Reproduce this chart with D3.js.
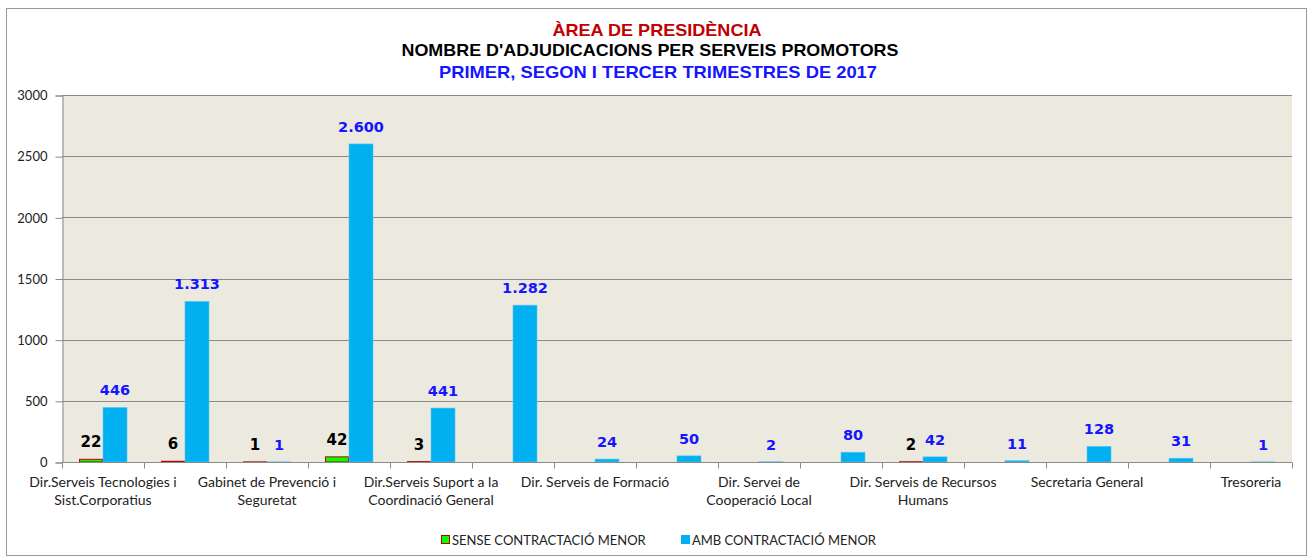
<!DOCTYPE html>
<html>
<head>
<meta charset="utf-8">
<script src="https://cdn.jsdelivr.net/npm/d3@7/dist/d3.min.js"></script>
<style>
  body { margin: 0; background: #fff; }
  svg { display: block; }
</style>
</head>
<body>
<script>
// chart data
var categories = [
  "Dir.Serveis Tecnologies i\nSist.Corporatius", "",
  "Gabinet de Prevenció i\nSeguretat", "",
  "Dir.Serveis Suport a la\nCoordinació General", "",
  "Dir. Serveis de Formació", "",
  "Dir. Servei de\nCooperació Local", "",
  "Dir. Serveis de Recursos\nHumans", "",
  "Secretaria General", "",
  "Tresoreria"
];
var senseValues = [22, 6, 1, 42, 3, null, null, null, null, null, 2, null, null, null, null];
var ambValues = [446, 1313, 1, 2600, 441, 1282, 24, 50, 2, 80, 42, 11, 128, 31, 1];
var seriesNames = ["SENSE CONTRACTACIÓ MENOR", "AMB CONTRACTACIÓ MENOR"];
var yTicks = [0, 500, 1000, 1500, 2000, 2500, 3000];
var titles = ["ÀREA DE PRESIDÈNCIA", "NOMBRE D'ADJUDICACIONS PER SERVEIS PROMOTORS", "PRIMER, SEGON I TERCER TRIMESTRES DE 2017"];

var W = 1312, H = 557;
var plot = {left: 62, right: 1292, top: 95, bottom: 462};

var svg = d3.select("body").append("svg")
    .attr("width", W)
    .attr("height", H);

// outer frame
svg.append("rect")
    .attr("x", 6.5).attr("y", 8.5)
    .attr("width", 1300).attr("height", 547)
    .attr("fill", "#fff")
    .attr("stroke", "#9a9a9a");

// titles
var titleColors = ["#c00000", "#000", "#1515ff"];
var titleY = [36, 56, 78];
var titleX = [657, 650, 658];
var titleW = [209, 497, 438];
svg.selectAll(".title")
    .data(titles)
  .enter().append("text")
    .attr("x", function(d, i) { return titleX[i]; })
    .attr("y", function(d, i) { return titleY[i]; })
    .attr("text-anchor", "middle")
    .attr("textLength", function(d, i) { return titleW[i]; })
    .attr("lengthAdjust", "spacingAndGlyphs")
    .style("font-family", "Liberation Sans, Arial, sans-serif")
    .style("font-weight", "bold")
    .style("font-size", "17px")
    .attr("fill", function(d, i) { return titleColors[i]; })
    .text(function(d) { return d; });

// scales
var idx = d3.range(categories.length);
var x0 = d3.scaleBand().domain(idx).range([plot.left, plot.right]);
var x1 = d3.scaleBand().domain([0, 1]).range([17, 65]);
var y = d3.scaleLinear().domain([0, 3000]).range([plot.bottom, plot.top]);

// plot background
svg.append("rect")
    .attr("x", plot.left).attr("y", plot.top)
    .attr("width", plot.right - plot.left)
    .attr("height", plot.bottom - plot.top)
    .attr("fill", "#ece9df");

// gridlines
svg.append("g")
    .selectAll("line")
    .data(yTicks.filter(function(d) { return d > 0; }))
  .enter().append("line")
    .attr("x1", plot.left).attr("x2", plot.right)
    .attr("y1", function(d) { return Math.round(y(d)) + 0.5; })
    .attr("y2", function(d) { return Math.round(y(d)) + 0.5; })
    .attr("stroke", "#8a8a8a");

// y axis
var yAxis = svg.append("g")
    .attr("transform", "translate(" + (plot.left + 0.5) + ",0.5)")
    .call(d3.axisLeft(y).tickValues(yTicks).tickSize(7).tickPadding(8).tickFormat(d3.format("d")));
yAxis.selectAll("path, line").attr("stroke", "#8a8a8a");
yAxis.selectAll("text")
    .style("font-family", "Lato, sans-serif")
    .style("font-size", "13px")
    .attr("fill", "#222");

// bars
var groups = svg.append("g").selectAll("g")
    .data(idx)
  .enter().append("g")
    .attr("transform", function(i) { return "translate(" + x0(i) + ",0)"; });

groups.filter(function(i) { return senseValues[i] != null; })
  .append("rect")
    .attr("x", x1(0) + 0.5)
    .attr("width", x1.bandwidth() - 1)
    .attr("y", function(i) { return y(senseValues[i]); })
    .attr("height", function(i) { return Math.max(0.5, y(0) - y(senseValues[i])); })
    .attr("fill", "#00ff00")
    .attr("stroke", "#c00000")
    .attr("stroke-width", 1);

groups.append("rect")
    .attr("x", x1(1))
    .attr("width", x1.bandwidth())
    .attr("y", function(i) { return y(ambValues[i]); })
    .attr("height", function(i) { return y(0) - y(ambValues[i]); })
    .attr("fill", "#00b0f0")
    .attr("stroke", "#5cc8f0")
    .attr("stroke-width", 0.6);

// data labels
var fmt = function(v) { return d3.format(",")(v).replace(/,/g, "."); };

groups.filter(function(i) { return senseValues[i] != null; })
  .append("text")
    .attr("x", x1(0) + x1.bandwidth() / 2)
    .attr("y", function(i) { return y(senseValues[i]) - 12; })
    .attr("text-anchor", "middle")
    .style("font-family", "DejaVu Sans, sans-serif")
    .style("font-weight", "bold")
    .style("font-size", "15px")
    .attr("fill", "#000")
    .text(function(i) { return fmt(senseValues[i]); });

groups.append("text")
    .attr("x", x1(1) + x1.bandwidth() / 2)
    .attr("y", function(i) { return y(ambValues[i]) - 12; })
    .attr("text-anchor", "middle")
    .style("font-family", "DejaVu Sans, sans-serif")
    .style("font-weight", "bold")
    .style("font-size", "14.5px")
    .attr("fill", "#1515ff")
    .text(function(i) { return fmt(ambValues[i]); });

// x axis
var xAxis = svg.append("g")
    .attr("transform", "translate(0," + (plot.bottom + 0.5) + ")");
xAxis.append("line")
    .attr("x1", plot.left).attr("x2", plot.right)
    .attr("stroke", "#8a8a8a");
xAxis.selectAll(".tick")
    .data(d3.range(categories.length + 1))
  .enter().append("line")
    .attr("x1", function(i) { return Math.round(plot.left + i * x0.step()) + 0.5; })
    .attr("x2", function(i) { return Math.round(plot.left + i * x0.step()) + 0.5; })
    .attr("y1", 0).attr("y2", 6)
    .attr("stroke", "#8a8a8a");

var xl = xAxis.selectAll(".lbl")
    .data(idx.filter(function(i) { return categories[i] !== ""; }))
  .enter().append("text")
    .attr("text-anchor", "middle")
    .style("font-family", "Lato, sans-serif")
    .style("font-size", "14px")
    .attr("fill", "#222");
xl.selectAll("tspan")
    .data(function(i) {
      return categories[i].split("\n").map(function(s) { return {i: i, s: s}; });
    })
  .enter().append("tspan")
    .attr("x", function(d) { return x0(d.i) + x0.bandwidth() / 2; })
    .attr("y", function(d, k) { return 24 + k * 18; })
    .text(function(d) { return d.s; });

// legend
var legendX = [441, 681];
var legend = svg.append("g").selectAll("g")
    .data(seriesNames)
  .enter().append("g")
    .attr("transform", function(d, i) { return "translate(" + legendX[i] + ",535)"; });
legend.append("rect")
    .attr("x", 0.5).attr("y", 0.5)
    .attr("width", 8).attr("height", 8)
    .attr("fill", function(d, i) { return i === 0 ? "#00ff00" : "#00b0f0"; })
    .attr("stroke", function(d, i) { return i === 0 ? "#c00000" : "#00b0f0"; });
legend.append("text")
    .attr("x", 11).attr("y", 9.5)
    .style("font-family", "Lato, sans-serif")
    .style("font-size", "13px")
    .attr("fill", "#222")
    .text(function(d) { return d; });
</script>
</body>
</html>
